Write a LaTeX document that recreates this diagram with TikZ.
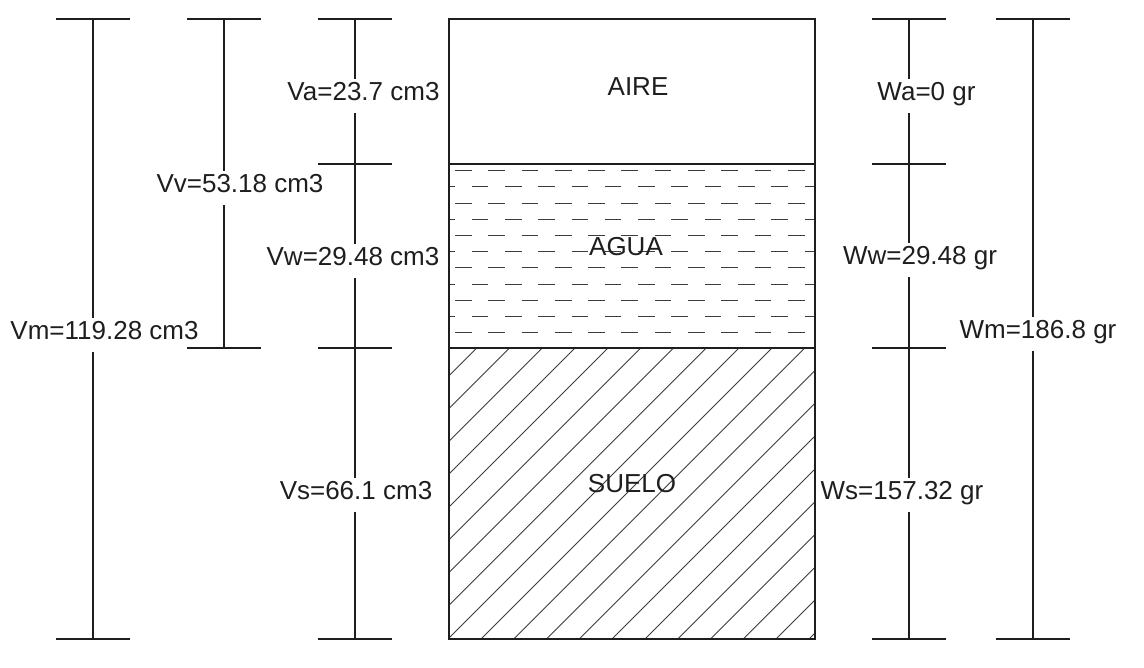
\documentclass[tikz,border=0pt]{standalone}
\usepackage{fontspec}
\setmainfont{Liberation Sans}
\usepackage{tikz}
\definecolor{ink}{RGB}{30,30,30}
\definecolor{hatchink}{RGB}{60,60,60}

\tikzset{
  dimline/.style={draw=ink, line width=0.6pt},
  boxline/.style={draw=ink, line width=0.7pt},
  waterdash/.style={draw=hatchink, line width=0.6pt, dash pattern=on 0.333cm off 0.333cm},
  hatchline/.style={draw=hatchink, line width=0.5pt},
  dimlabel/.style={fill=white, text=ink, inner xsep=1pt, inner ysep=5pt, text height=0.75em, text depth=0.22em, font=\fontsize{14.8}{17}\selectfont},
  phaselabel/.style={text=ink, inner sep=0pt, font=\fontsize{14.8}{17}\selectfont}
}

\begin{document}
\begin{tikzpicture}[x=0.02cm, y=-0.02cm]
  \useasboundingbox (0,0) rectangle (1144,668);
  \fill[white] (0,0) rectangle (1144,668);

  \coordinate (boxtl) at (449,19);
  \coordinate (boxtr) at (815,19);
  \coordinate (airel) at (449,164);
  \coordinate (airer) at (815,164);
  \coordinate (agual) at (449,348);
  \coordinate (aguar) at (815,348);
  \coordinate (boxbl) at (449,639);
  \coordinate (boxbr) at (815,639);

  \begin{scope}
    \clip (airel) rectangle (aguar);
    \foreach \i in {0,...,10} {
      \pgfmathsetmacro\yy{170.7+16.2*\i}
      \pgfmathsetmacro\xx{455-16.65*mod(\i,2)}
      \draw[waterdash] (\xx,\yy) -- (830,\yy);
    }
  \end{scope}
  \begin{scope}
    \clip (agual) rectangle (boxbr);
    \foreach \k in {0,...,19} {
      \pgfmathsetmacro\c{824.7+32.8*\k}
      \draw[hatchline] (\c-700,700) -- (\c-300,300);
    }
  \end{scope}

  \draw[boxline] (boxtl) rectangle (boxbr);
  \draw[boxline] (airel) -- (airer);
  \draw[boxline] (agual) -- (aguar);

  \node[phaselabel] (aire) at (638,87) {AIRE};
  \node[phaselabel] (agua) at (626,247) {AGUA};
  \node[phaselabel] (suelo) at (632,484) {SUELO};

  \foreach \name/\x/\y in {vm1/93/19, vm2/93/639, vv1/224/19, vv2/224/348,
      va1/355/19, va2/355/164, vw2/355/348, vs2/355/639,
      wa1/909/19, wa2/909/164, ww2/909/348, ws2/909/639,
      wm1/1033/19, wm2/1033/639}
    \coordinate (\name) at (\x,\y);

  \draw[dimline] (vm1) -- (vm2);
  \draw[dimline] (vv1) -- (vv2);
  \draw[dimline] (va1) -- (vs2);
  \draw[dimline] (wa1) -- (ws2);
  \draw[dimline] (wm1) -- (wm2);

  \node[dimlabel] (vmlabel) at (104.5,335) {Vm=119.28 cm3};
  \node[dimlabel] (vvlabel) at (240,188) {Vv=53.18 cm3};
  \node[dimlabel] (valabel) at (363.5,96) {Va=23.7 cm3};
  \node[dimlabel] (vwlabel) at (353,261) {Vw=29.48 cm3};
  \node[dimlabel] (vslabel) at (356,495) {Vs=66.1 cm3};
  \node[dimlabel] (walabel) at (926.5,96) {Wa=0 gr};
  \node[dimlabel] (wwlabel) at (920,260) {Ww=29.48 gr};
  \node[dimlabel] (wmlabel) at (1038,334) {Wm=186.8 gr};
  \node[dimlabel] (wslabel) at (902,495) {Ws=157.32 gr};

  \foreach \name in {vm1, vm2, vv1, vv2, va1, va2, vw2, vs2, wa1, wa2, ww2, ws2, wm1, wm2}
    \draw[dimline] ([xshift=-0.74cm]\name) -- ([xshift=0.74cm]\name);
\end{tikzpicture}
\end{document}
